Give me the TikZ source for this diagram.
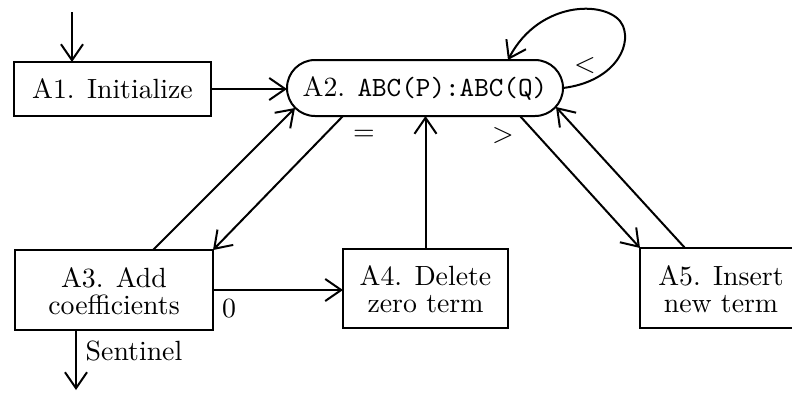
\documentclass[tikz,border=0pt]{standalone}
\usepackage{graphicx}
\usetikzlibrary{arrows.meta,calc}
\newcommand\cmone[1]{\scalebox{2.78}{\fontsize{10}{9.7}\selectfont #1}}
\newcommand\cmtwo[2]{\scalebox{2.78}{\fontsize{10}{9.7}\selectfont\raisebox{-1.8pt}[\height][\depth]{\begin{tabular}{@{}c@{}}#1\\#2\end{tabular}}}}
\tikzset{
  box/.style={draw, line width=2pt, inner sep=0pt, outer sep=0pt},
  arr/.style={line width=2pt, -{Straight Barb[length=16pt,width=22pt,line width=2pt]}},
  lbl/.style={inner sep=0pt, outer sep=0pt}
}
\begin{document}
\begin{tikzpicture}[x=1pt,y=-1pt]
\useasboundingbox (0,0) rectangle (792,392);
\node[box, minimum width=197pt, minimum height=54pt] (A1) at (112.5,89) {\cmone{A1. Initialize}};
\node[box, rounded corners=28pt, minimum width=276pt, minimum height=56pt] (A2) at (425,88) {\cmone{A2. \texttt{ABC(P):ABC(Q)}}};
\node[box, minimum width=198pt, minimum height=80pt] (A3) at (114,290) {\cmtwo{A3. Add}{coefficients}};
\node[box, minimum width=165pt, minimum height=79pt] (A4) at (425.5,288.5) {\cmtwo{A4. Delete}{zero term}};
\node[box, minimum width=162pt, minimum height=80pt] (A5) at (721,288) {\cmtwo{A5. Insert}{new term}};
\node[lbl] (lt) at (585,66) {\cmone{$<$}};
\node[lbl] (eq) at (364,135) {\cmone{$=$}};
\node[lbl] (gt) at (503,136) {\cmone{$>$}};
\node[lbl] (zero) at (229,309) {\cmone{0}};
\node[lbl] (sent) at (134,351) {\cmone{Sentinel}};
\coordinate (in) at (72,12);
\coordinate (out) at (76,390);
\draw[arr] (in) -- (in |- A1.north);
\draw[arr] (A1.east) -- (A1.east -| A2.west);
\draw[arr] (A2.east) .. controls (612,82) and (632,48) .. (623,26) .. controls (612,0) and (540,-2) .. ($(A2.north)+(83,0)$);
\draw[arr] ($(A2.south)+(-82,0)$) -- (A3.north east);
\draw[arr] ($(A3.north)+(39,0)$) -- ($(A2.west)+(8,20)$);
\draw[arr] (A3.east) -- (A3.east -| A4.west);
\draw[arr] (A4.north) -- (A4.north |- A2.south);
\draw[arr] ($(A2.south)+(95,0)$) -- (A5.north west);
\draw[arr] ($(A5.north west)+(45,0)$) -- ($(A2.east)+(-7,19)$);
\draw[arr] ($(A3.south)+(-38,0)$) -- (out);
\end{tikzpicture}
\end{document}
